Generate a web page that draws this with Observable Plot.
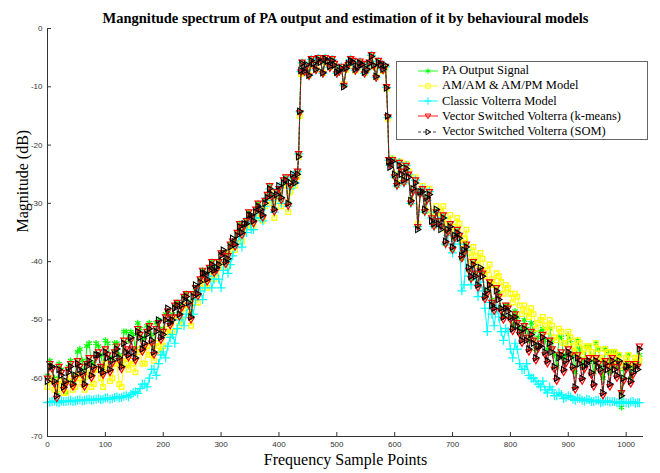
<!DOCTYPE html>
<html><head><meta charset="utf-8">
<script src="https://cdn.jsdelivr.net/npm/d3@7"></script>
<script src="https://cdn.jsdelivr.net/npm/@observablehq/plot@0.6"></script>
<style>
html,body{margin:0;padding:0;background:#fff;}
#wrap{position:relative;width:660px;height:473px;overflow:hidden;}
#legend{position:absolute;left:396px;top:61px;width:252px;height:79px;border:1px solid #666;background:#fff;box-sizing:border-box;font-family:"Liberation Serif","Times New Roman",serif;font-size:12.5px;color:#000;}
.row{position:absolute;left:20px;height:15px;display:flex;align-items:center;white-space:nowrap;}
.row svg{margin-right:3px;}
</style></head><body><div id="wrap"></div>
<script>
// Frequency sample indices (x positions of the plotted points)
const sampleIdx = [
  0,8,16,24,32,40,48,56,64,72,80,88,96,104,112,120,128,136,144,152,160,168,176,184,192,200,208,216,224,232,
  240,248,256,264,272,280,288,296,304,312,320,328,336,344,352,360,368,376,384,392,400,408,416,424,432,
  434,436,438,
  440,448,456,464,472,480,488,496,504,512,520,528,536,544,552,560,568,576,584,
  586,588,590,
  592,600,608,616,624,632,640,648,656,664,672,680,688,696,704,712,720,728,736,744,
  752,760,768,776,784,792,800,808,816,824,832,840,848,856,864,872,880,888,896,904,
  912,920,928,936,944,952,960,968,976,984,992,1000,1008,1016,1023
];
// In-between sample indices
const midIdx = [
  4,12,20,28,36,44,52,60,68,76,84,92,100,108,116,124,132,140,148,156,164,172,180,188,196,204,212,220,228,236,
  244,252,260,268,276,284,292,300,308,316,324,332,340,348,356,364,372,380,388,396,404,412,420,428,
  444,452,460,468,476,484,492,500,508,516,524,532,540,548,556,564,572,580,
  596,604,612,620,628,636,644,652,660,668,676,684,692,700,708,716,724,732,740,748,
  756,764,772,780,788,796,804,812,820,828,836,844,852,860,868,876,884,892,900,908,
  916,924,932,940,948,956,964,972,980,988,996,1004,1012,1020
];

const paOutputDb = [
  -59.5,-58,-62.5,-58.5,-62.5,-57,-59.5,-55,-60,-54,-57.5,-54.5,-58,-54,-56.5,-54,-57.5,-52,-52,-55,
  -51.5,-53,-50.5,-54.5,-50,-51.5,-48.5,-49,-47,-47.5,-45.5,-49,-44.5,-43,-42,-41,-41.5,-40,-38.5,-38.5,
  -36.5,-35,-35,-33,-32.5,-31,-31.5,-29.5,-27,-31,-27.5,-26,-30,-25.5,-24.5,
  -21.5,-14.5,-7.5,
  -5.8,-6.5,-5.2,-7.2,-5.5,-5.0,-6.8,-6.0,-7.5,-9.8,-6.2,-5.5,-6.8,-6.0,-7.2,-4.5,-8.5,-6.0,-6.5,
  -10,-15.2,-22.5,
  -23.5,-25.5,-23,-26.5,-25,-28,-34,-27.5,-29.5,-32.5,-31.5,-34,-37,-33.5,-36,-35.5,-38.5,-41.5,-40,-44,
  -42,-45,-46.5,-44.5,-48,-47.5,-49.5,-48.5,-51.5,-50,-53.5,-52,-53,-51.5,-55,-53.5,-58,-53,-56,-53.5,
  -59,-55,-57,-54.5,-59,-55,-60,-55.5,-55.5,-58,-65,-57.5,-60,-57,-56
];
const paOutputDbMid = [
  -57,-60,-57.5,-61.5,-58,-60.5,-55.5,-57,-54.5,-57.5,-54,-56,-53.5,-56.5,-54,-56,-52,-53.5,-52.5,-50.5,
  -53.5,-51,-52.5,-50.5,-52,-49,-50.5,-47.5,-49,-46,-47,-45.5,-45.5,-41.5,-43,-40,-41,-38.5,-40,-37,
  -37.5,-33.5,-34,-31.5,-33,-30,-32.5,-28.5,-29,-28,-29.5,-25.5,-27,-26,
  -7.5,-8.2,-6.2,-5.0,-7.8,-5.8,-5.2,-7.8,-6.5,-7.0,-5.2,-7.3,-5.6,-7.8,-5.8,-6.5,-5.5,-7.2,
  -22.5,-27,-24.5,-23.5,-30,-26,-28.5,-31.5,-28,-34,-33,-32,-35,-38,-34.5,-39.5,-37,-43,-42,-41.5,
  -46,-43.5,-48,-45.5,-49.5,-47.5,-51,-49.5,-52.5,-51.5,-50.5,-55,-52,-53.5,-51.5,-56,-53,-56.5,-52.5,-56,
  -53.5,-58,-54.5,-57,-54,-57,-55,-59,-55.5,-56,-58.5,-56,-58,-57.5
];

const amamAmpmDb = [
  -61.5,-60.5,-62,-61,-62.5,-60,-61.5,-60,-62,-59,-61,-58.5,-61.5,-58.5,-60,-57.5,-61.5,-57.5,-57,-59,
  -55.5,-57.5,-56,-57,-54.5,-54.5,-51.5,-52,-49.5,-50,-47.5,-51,-46,-44.5,-44,-42.5,-43,-41,-40,-40,
  -37.5,-36,-36.5,-34,-33.5,-32,-32.5,-30.5,-28,-32.5,-28.5,-27,-31.5,-26.5,-25.5,
  -22,-15,-7.8,
  -6.0,-6.6,-5.4,-7.0,-5.7,-5.2,-6.6,-6.2,-7.3,-9.5,-6.4,-5.7,-6.6,-6.2,-7.0,-4.7,-8.3,-6.2,-6.7,
  -10.3,-15.5,-22.8,
  -23.2,-25,-22.8,-26,-24.5,-27.5,-33.5,-27,-29,-31.5,-30.5,-32.5,-34.5,-32,-34,-33.5,-36,-38.5,-37.5,-40.5,
  -39.5,-41.5,-43,-42,-43.5,-44,-45.5,-45.5,-47.5,-47.5,-49.5,-49,-50.5,-49.5,-52,-51,-53.5,-52,-54,-53,
  -55.5,-54,-55,-54.5,-56.5,-55,-57,-55.5,-55.5,-57,-58,-56.5,-58,-56.5,-57
];
const amamAmpmDbMid = [
  -60,-62,-60.5,-62.5,-60.5,-62,-59.5,-61,-59.5,-61.5,-58.5,-60,-57.5,-60.5,-57.5,-61,-56.5,-58.5,-57.5,-55,
  -57.5,-54.5,-56,-54,-55.5,-52,-52.5,-49.5,-51,-48,-48.5,-47,-47,-43,-44.5,-41.5,-42,-40,-41,-38,
  -38,-34.5,-35,-32.5,-34,-31,-33,-29.5,-30,-29,-30.5,-26.5,-28,-27,
  -7.6,-8.0,-6.4,-5.2,-7.6,-6.0,-5.4,-7.6,-6.7,-7.1,-5.4,-7.2,-5.8,-7.6,-6.0,-6.6,-5.7,-7.3,
  -22.3,-26.5,-24,-23.2,-29.5,-25.5,-28,-31,-27.5,-33,-31.5,-30.5,-33,-35.5,-32.5,-37,-34.5,-40,-39,-38.5,
  -42.5,-40.5,-44,-42.5,-45.5,-44.5,-47,-46,-49,-48.5,-48,-51.5,-50,-51,-50,-53,-51.5,-54,-52,-54.5,
  -53.5,-56,-54.5,-55.5,-54,-56.5,-55,-57.5,-55.5,-56,-57.5,-56,-57.5,-56.5
];

const classicVolterraDb = [
  -64.2,-64,-64.1,-63.9,-64,-63.8,-63.9,-63.7,-63.8,-63.6,-63.7,-63.5,-63.6,-63.4,-63.5,-63.2,-63.3,-63,-62.8,-62.3,
  -61.8,-61,-60,-58.5,-57.5,-55.5,-54.5,-52.5,-51.5,-49.5,-49,-47.5,-46.5,-45,-44.5,-42.5,-43,-43,-41.5,-42,
  -39,-37,-37.5,-35,-34.5,-32.5,-32.5,-30.5,-27.5,-31.5,-27.5,-26.5,-30.5,-25.5,-24.5,
  -21.5,-14.3,-7.4,
  -5.9,-6.4,-5.3,-7.1,-5.6,-5.1,-6.7,-6.1,-7.4,-9.7,-6.3,-5.6,-6.7,-6.1,-7.1,-4.6,-8.4,-6.1,-6.6,
  -10.1,-15.3,-22.6,
  -23.5,-25.5,-23,-26.5,-25,-28,-34,-27.5,-29.5,-32.5,-31.5,-34,-37,-34,-36.5,-37,-44,-42.5,-41.5,-46,
  -45,-52,-49,-48,-52,-51.5,-55,-54,-57.5,-58.5,-59.5,-60,-61,-60.5,-62.5,-62,-63,-62.8,-63.3,-63.2,
  -63.8,-63.5,-63.9,-63.7,-64,-63.8,-64.1,-63.9,-64,-64.2,-64,-64.2,-64.1,-64.3,-64.2
];
const classicVolterraDbMid = [
  -64.1,-63.9,-64.2,-64,-63.9,-64,-63.8,-63.9,-63.7,-63.8,-63.6,-63.7,-63.4,-63.6,-63.3,-63.4,-63.1,-63.2,-62.5,-62.6,
  -61,-61.5,-58.5,-59.5,-56,-56.5,-53,-54,-50,-51,-47.5,-49,-44.5,-46.5,-42.5,-44.5,-41,-44.5,-40,-40.5,
  -37.5,-35.5,-35,-32.5,-34.5,-31,-33,-29,-29.5,-28.5,-30,-26,-27.5,-26.5,
  -7.4,-8.1,-6.1,-5.1,-7.7,-5.9,-5.3,-7.7,-6.6,-6.9,-5.3,-7.2,-5.7,-7.7,-5.9,-6.4,-5.6,-7.1,
  -22.5,-27,-24.5,-23.5,-30,-26,-28.5,-31.5,-28,-34,-33,-32.5,-35.5,-38.5,-35,-45,-38,-44,-43,-43.5,
  -48,-47,-51,-49.5,-53.5,-52,-56.5,-55,-58.5,-57.5,-60,-60.5,-61.5,-62,-61.5,-63,-62.5,-63.5,-63,-63.6,
  -63.4,-63.8,-63.6,-64,-63.8,-64.2,-63.9,-64.1,-64,-64.3,-64.1,-64.3,-64,-64.2
];

const vsvKmeansDb = [
  -60,-58.5,-63.5,-59,-61,-57.5,-60,-58,-61.5,-56.5,-58.5,-55.5,-59.5,-56,-57.5,-54.5,-58.5,-55,-53.5,-57,
  -52.5,-54.5,-51,-56,-50.5,-52,-48.5,-49.5,-47,-48,-45.5,-50,-44.5,-43,-42.5,-41,-42,-40,-38.5,-39,
  -36.5,-35,-35.5,-33,-32.5,-31,-31.5,-29.5,-27,-31.5,-27.5,-26,-30.5,-25.5,-24.5,
  -21.5,-14.5,-7.5,
  -5.8,-6.5,-5.2,-7.2,-5.5,-5.0,-6.8,-6.0,-7.5,-9.8,-6.2,-5.5,-6.8,-6.0,-7.2,-4.5,-8.5,-6.0,-6.5,
  -10,-15.2,-22.5,
  -23.5,-25.5,-23,-26.5,-25,-28,-34,-27.5,-29.5,-32.5,-31.5,-34,-37,-33.5,-36,-35.5,-38.5,-41.5,-40,-44.5,
  -42,-45.5,-47,-44.5,-48.5,-47.5,-50,-49,-52.5,-51,-55.5,-53.5,-55,-52.5,-57.5,-55,-60.5,-55.5,-57.5,-56,
  -62,-57,-58.5,-56.5,-61.5,-57.5,-63,-58,-56.5,-60,-62.5,-58.5,-61,-57.5,-54.5
];
const vsvKmeansDbMid = [
  -57.5,-61,-58,-62,-58.5,-61.5,-57,-59.5,-57.5,-60,-56.5,-58,-55,-59,-55.5,-57,-53.5,-56.5,-55,-51.5,
  -55.5,-52,-54,-51.5,-53.5,-49.5,-51,-47.5,-49.5,-46,-47.5,-45.5,-46,-41.5,-43.5,-40,-41.5,-38.5,-40.5,-37,
  -37.5,-33.5,-34,-31.5,-33.5,-30,-32.5,-28.5,-29,-28,-29.5,-25.5,-27,-26,
  -7.5,-8.2,-6.2,-5.0,-7.8,-5.8,-5.2,-7.8,-6.5,-7.0,-5.2,-7.3,-5.6,-7.8,-5.8,-6.5,-5.5,-7.2,
  -22.5,-27,-24.5,-23.5,-30,-26,-28.5,-31.5,-28,-34,-33,-32,-35,-38,-34.5,-39.5,-37,-43,-42,-41.5,
  -46.5,-43.5,-48.5,-46,-50,-48,-52,-50.5,-54,-53,-52,-57,-54,-56,-53.5,-58.5,-56,-59,-55,-58.5,
  -56,-60.5,-57,-59.5,-56.5,-59,-57,-61.5,-58,-57.5,-60.5,-57.5,-59.5,-58
];

const vsvSomDb = [
  -60.5,-58,-63,-59.5,-60.5,-58,-59.5,-58.5,-61,-57,-58,-56,-59,-56.5,-57,-55,-58,-55.5,-53,-56.5,
  -53,-54,-51.5,-55.5,-50,-52.5,-48,-50,-47.5,-47.5,-46,-49.5,-44,-43.5,-42,-41.5,-41.5,-40.5,-38,-39.5,
  -36,-35.5,-35,-33.5,-32,-31.5,-31,-30,-27.5,-31,-27,-26.5,-30,-25,-25,
  -22,-14.2,-7.2,
  -6.0,-6.2,-5.5,-7.0,-5.8,-5.2,-6.5,-6.3,-7.2,-10.0,-6.0,-5.8,-6.5,-6.2,-7.0,-4.8,-8.2,-6.2,-6.3,
  -10.2,-15,-22.8,
  -23.8,-25,-23.5,-26,-25.5,-27.5,-34.5,-28,-29,-33,-31,-34.5,-36.5,-34,-35.5,-36,-38,-41,-40.5,-44,
  -42.5,-45,-47.5,-45,-48,-48,-49.5,-49.5,-52,-51.5,-55,-54,-54.5,-53,-57,-55.5,-60,-56,-57,-56.5,
  -61.5,-57.5,-58,-57,-61,-58,-62.5,-58.5,-57,-59.5,-63,-58,-60.5,-58,-55
];
const vsvSomDbMid = [
  -58,-60.5,-58.5,-61.5,-59,-61,-57.5,-59,-58,-59.5,-56,-58.5,-55.5,-58.5,-56,-56.5,-54,-56,-55.5,-52,
  -55,-52.5,-53.5,-52,-53,-50,-50.5,-48,-49,-46.5,-47,-46,-45.5,-42,-43,-40.5,-41,-39,-40,-37.5,
  -37,-34,-33.5,-32,-33,-30.5,-32,-29,-28.5,-28.5,-29,-26,-26.5,-26.5,
  -7.3,-8.0,-6.0,-5.3,-7.6,-5.6,-5.5,-7.5,-6.8,-6.8,-5.5,-7.0,-5.9,-7.5,-6.0,-6.3,-5.8,-7.0,
  -22.8,-26.5,-25,-24,-29.5,-26.5,-28,-31,-28.5,-33.5,-33.5,-32.5,-34.5,-37.5,-35,-39,-37.5,-42.5,-42.5,-41,
  -46,-44,-48,-46.5,-49.5,-48.5,-51.5,-51,-53.5,-53.5,-52.5,-56.5,-54.5,-55.5,-54,-58,-56.5,-58.5,-55.5,-58,
  -56.5,-60,-57.5,-59,-57,-58.5,-57.5,-61,-58.5,-57,-60,-58,-59,-58.5
];

const seriesNames = ["PA Output Signal", "AM/AM & AM/PM Model", "Classic Volterra Model",
  "Vector Switched Volterra (k-means)", "Vector Switched Volterra (SOM)"];
const xTicks = [0,100,200,300,400,500,600,700,800,900,1000];
const yTicks = [-70,-60,-50,-40,-30,-20,-10,0];
const titleText = "Mangnitude spectrum of PA output and estimation of it by behavioural models";
const xLabel = "Frequency Sample Points";
const yLabel = "Magnitude (dB)";

// custom triangle symbols (down and right pointing)
const triDown = {draw(ctx, size){ const h = Math.sqrt(size) * 0.62; ctx.moveTo(-h, -h*0.7); ctx.lineTo(h, -h*0.7); ctx.lineTo(0, h*1.0); ctx.closePath(); }};
const triRight = {draw(ctx, size){ const h = Math.sqrt(size) * 0.62; ctx.moveTo(-h*0.7, -h); ctx.lineTo(-h*0.7, h); ctx.lineTo(h*1.0, 0); ctx.closePath(); }};

const styles = [
  {values: paOutputDb, mids: paOutputDbMid, color: "#00ff00", symbol: "asterisk", r: 3, sw: 1.2, line: "#00ff00", dash: null},
  {values: amamAmpmDb, mids: amamAmpmDbMid, color: "#ffff00", symbol: "square", r: 2.6, sw: 1.3, line: "#ffff00", dash: null},
  {values: classicVolterraDb, mids: classicVolterraDbMid, color: "#00ffff", symbol: "plus", r: 3, sw: 1.2, line: "#00ffff", dash: null},
  {values: vsvKmeansDb, mids: vsvKmeansDbMid, color: "#ff0000", symbol: triDown, r: 2.8, sw: 1.2, line: "#ff0000", dash: null},
  {values: vsvSomDb, mids: vsvSomDbMid, color: "#000000", symbol: triRight, r: 2.8, sw: 1.1, line: "#333333", dash: "3,2"}
];

const marks = [];
styles.forEach((s, k) => {
  const data = sampleIdx.map((x, i) => ({x, y: s.values[i], series: seriesNames[k]}))
    .concat(midIdx.map((x, i) => ({x, y: s.mids[i], series: seriesNames[k]})))
    .sort((a, b) => a.x - b.x);
  marks.push(Plot.line(data, {x: "x", y: "y", stroke: s.line, strokeWidth: 1, strokeDasharray: s.dash}));
  marks.push(Plot.dot(data, {x: "x", y: "y", symbol: () => s.symbol, r: s.r, stroke: s.color, fill: "none", strokeWidth: s.sw}));
});

const chart = Plot.plot({
  width: 660, height: 473,
  marginLeft: 47, marginRight: 17, marginTop: 28, marginBottom: 37,
  x: {domain: [0, 1030]},
  y: {domain: [-70, 0]},
  style: {background: "#fff", overflow: "visible"},
  marks: [
    ...marks,
    Plot.ruleY([-70], {stroke: "#333", strokeWidth: 1}),
    Plot.ruleX([0], {stroke: "#333", strokeWidth: 1}),
    Plot.axisX({ticks: xTicks, tickSize: -4, tickPadding: 9, tickFormat: d => String(d), fontSize: 8,
      fontFamily: "Liberation Sans, Arial, sans-serif", color: "#333", label: null}),
    Plot.axisY({ticks: yTicks, tickSize: -4, tickPadding: 9, tickFormat: d => String(d), fontSize: 8,
      fontFamily: "Liberation Sans, Arial, sans-serif", color: "#333", label: null}),
    Plot.text([titleText], {frameAnchor: "top", dy: -16, fontSize: 14.5, fontWeight: "bold",
      fontFamily: "Liberation Serif, Times New Roman, serif", fill: "#000"}),
    Plot.text([xLabel], {frameAnchor: "bottom", dy: 28, fontSize: 16,
      fontFamily: "Liberation Serif, Times New Roman, serif", fill: "#000"}),
    Plot.text([yLabel], {frameAnchor: "left", dx: -25, rotate: -90, fontSize: 16,
      fontFamily: "Liberation Serif, Times New Roman, serif", fill: "#000"})
  ]
});

const wrap = document.getElementById("wrap");
wrap.appendChild(chart);

// legend
const legend = document.createElement("div");
legend.id = "legend";
const symMap = {asterisk: d3.symbolAsterisk, square: d3.symbolSquare, plus: d3.symbolPlus};
styles.forEach((s, k) => {
  const row = document.createElement("div");
  row.className = "row";
  row.style.top = (1 + k * 15.3) + "px";
  const svg = d3.create("svg").attr("width", 22).attr("height", 12);
  svg.append("line").attr("x1", 1).attr("x2", 21).attr("y1", 6).attr("y2", 6)
    .attr("stroke", s.line).attr("stroke-width", 0.9).attr("stroke-dasharray", s.dash);
  const type = typeof s.symbol === "string" ? symMap[s.symbol] : s.symbol;
  svg.append("path").attr("transform", "translate(11,6)")
    .attr("d", d3.symbol(type, Math.PI * 2.5 * 2.5)())
    .attr("fill", "none").attr("stroke", s.color).attr("stroke-width", 1);
  row.appendChild(svg.node());
  const span = document.createElement("span");
  span.textContent = seriesNames[k];
  row.appendChild(span);
  legend.appendChild(row);
});
wrap.appendChild(legend);
</script></body></html>
